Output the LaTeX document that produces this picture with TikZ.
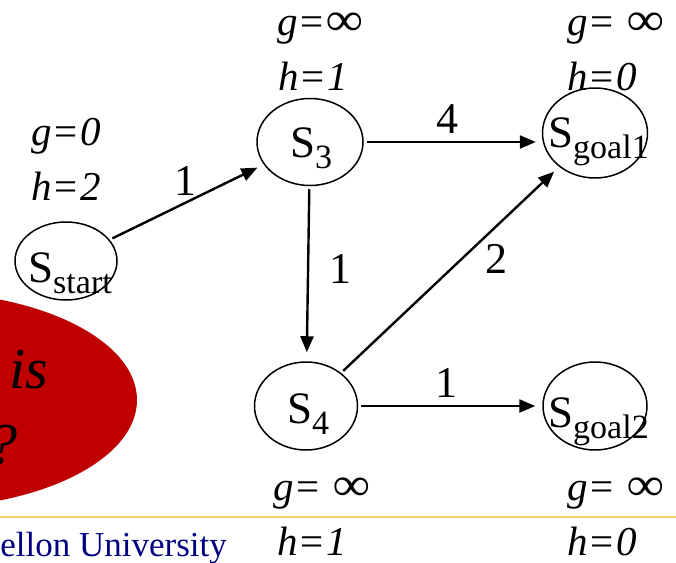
\documentclass[tikz,border=0pt]{standalone}
\usepackage{fontspec}
\setmainfont{Liberation Serif}[ItalicFont={Liberation Serif Italic}]
\usetikzlibrary{shapes.geometric,arrows.meta}
\definecolor{darkred}{RGB}{192,0,0}
\definecolor{gold}{RGB}{255,204,102}
\definecolor{navyblue}{RGB}{0,0,128}
\newcommand{\Ssub}[1]{S\raisebox{-11pt}{\fontsize{34}{34}\selectfont #1}}
\newcommand{\eqk}{\kern3pt{\upshape=}\kern3pt}
\newcommand{\infy}{\scalebox{1.25}[1.15]{∞}}
\begin{document}
\begin{tikzpicture}[x=1pt,y=-1pt,
  st/.style 2 args={draw,ellipse,line width=1.5pt,inner sep=0pt,minimum width=#1,minimum height=#2},
  stxt/.style={font=\fontsize{45}{45}\selectfont,inner sep=0pt,anchor=base west},
  arr/.style={line width=2.4pt,-{Triangle[length=16pt,width=13pt]},shorten >=7pt,shorten <=3pt},
  lbl/.style={font=\fontsize{44}{44}\selectfont,inner sep=0pt},
  gh/.style={font=\fontsize{41}{41}\selectfont\itshape,inner sep=0pt,anchor=base west},
  big/.style={font=\fontsize{58}{58}\selectfont\itshape,inner sep=0pt,anchor=base east}]
\useasboundingbox (0,0) rectangle (676,562);
\clip (0,0) rectangle (676,562);
\fill[white] (0,0) rectangle (676,562);
% red callout
\fill[darkred] (-80,400) ellipse [x radius=217, y radius=108];
\node[big] (is) at (48,388) {What is};
\node[big] (qm) at (18,463) {?};
% separator and footer
\draw[gold,line width=2.5pt] (0,517) -- (676,517);
\node[anchor=base east,text=navyblue,font=\fontsize{35}{35}\selectfont,inner sep=0pt] (cmu) at (227,556) {Carnegie Mellon University};
% states
\node[st={102pt}{78pt}] (start) at (66,261) {};
\node[st={106pt}{87pt}] (s3) at (310,142) {};
\node[st={105pt}{90pt}] (g1) at (595,133) {};
\node[st={103pt}{88pt}] (s4) at (306,406) {};
\node[st={104pt}{88pt}] (g2) at (595,406) {};
\node[stxt] (tstart) at (28,282) {\Ssub{start}};
\node[stxt] (ts3) at (290,157) {\Ssub{3}};
\node[stxt] (tg1) at (548,147) {\Ssub{goal1}};
\node[stxt] (ts4) at (287,423) {\Ssub{4}};
\node[stxt] (tg2) at (548,427) {\Ssub{goal2}};
% edges
\draw[arr] (start) -- (s3);
\draw[arr,shorten >=6pt] (s3.east) -- (s3.east -| g1.west);
\draw[arr,shorten >=9pt] (s3) -- (s4);
\draw[arr] (s4) -- (g1);
\draw[arr] (s4) -- (g2);
% edge costs
\node[lbl] (c1) at (185,181) {1};
\node[lbl] (c2) at (447,119) {4};
\node[lbl] (c3) at (340,269) {1};
\node[lbl] (c4) at (496,259) {2};
\node[lbl] (c5) at (446,383) {1};
% g / h values
\node[gh] (gstart) at (31,145) {g\eqk0};
\node[gh] (hstart) at (31,200) {h\eqk2};
\node[gh] (gs3) at (277,35) {g\eqk\infy};
\node[gh] (hs3) at (278,90) {h\eqk1};
\node[gh] (gg1) at (567,35) {g\eqk\ \infy};
\node[gh] (hg1) at (567,90) {h\eqk0};
\node[gh] (gs4) at (273,500) {g\eqk\ \infy};
\node[gh] (hs4) at (277,555) {h\eqk1};
\node[gh] (gg2) at (567,500) {g\eqk\ \infy};
\node[gh] (hg2) at (567,555) {h\eqk0};
\end{tikzpicture}
\end{document}
